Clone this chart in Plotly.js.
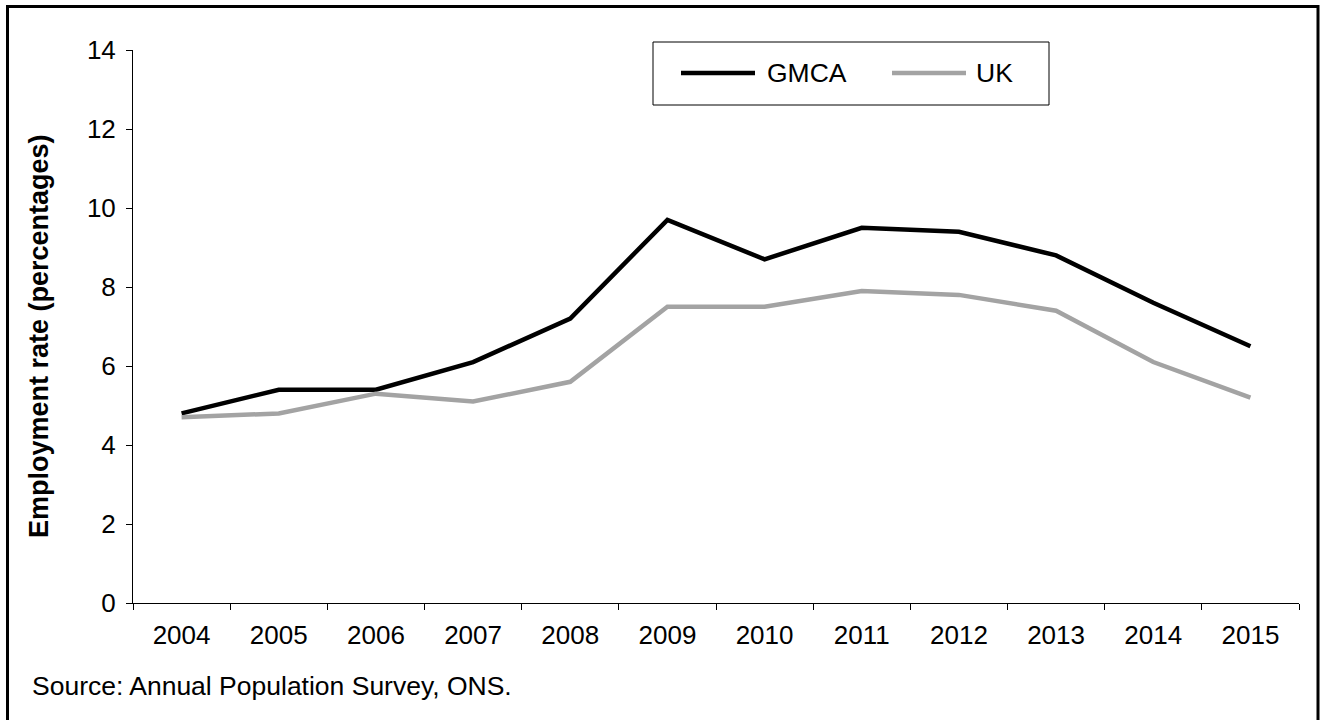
<!DOCTYPE html>
<html>
<head>
<meta charset="utf-8">
<script src="https://cdn.plot.ly/plotly-3.0.1.min.js"></script>
<style>
  html, body { margin: 0; padding: 0; background: #fff; }
  #chart { width: 1324px; height: 720px; }
</style>
</head>
<body>
<div id="chart"></div>
<script>
// Employment rate series, 2004-2015
const years = ['2004', '2005', '2006', '2007', '2008', '2009', '2010', '2011', '2012', '2013', '2014', '2015'];
const gmcaRate = [4.8, 5.4, 5.4, 6.1, 7.2, 9.7, 8.7, 9.5, 9.4, 8.8, 7.6, 6.5];
const ukRate = [4.7, 4.8, 5.3, 5.1, 5.6, 7.5, 7.5, 7.9, 7.8, 7.4, 6.1, 5.2];
const seriesNames = ['GMCA', 'UK'];
const seriesColors = ['#000000', '#a3a3a3'];
const yTitle = 'Employment rate (percentages)';
const sourceNote = 'Source: Annual Population Survey, ONS.';

const FONT = 'Liberation Sans, Arial, sans-serif';

const traces = [gmcaRate, ukRate].map((vals, i) => ({
  type: 'scatter',
  mode: 'lines',
  x: years,
  y: vals,
  name: seriesNames[i],
  line: { color: seriesColors[i], width: 4.5 },
  showlegend: false,
  hoverinfo: 'x+y+name'
}));

// plot area in pixels: x 133..1299, y 50..603
const L = 133, R = 1299, T = 50, B = 603;
const px = v => (v - L) / (R - L);
const py = v => (B - v) / (B - T);

// boxed legend
const legendShapes = [
  { type: 'rect', xref: 'paper', yref: 'paper', x0: px(653), x1: px(1049), y0: py(105), y1: py(42),
    line: { color: '#000', width: 1 }, fillcolor: '#fff' },
  { type: 'line', xref: 'paper', yref: 'paper', x0: px(681), x1: px(755), y0: py(73), y1: py(73),
    line: { color: seriesColors[0], width: 4.5 } },
  { type: 'line', xref: 'paper', yref: 'paper', x0: px(892), x1: px(966), y0: py(73), y1: py(73),
    line: { color: seriesColors[1], width: 4.5 } }
];
const legendLabels = [
  { text: seriesNames[0], x: px(765), y: py(73) },
  { text: seriesNames[1], x: px(974), y: py(73) }
].map(a => Object.assign(a, {
  xref: 'paper', yref: 'paper', xanchor: 'left', yanchor: 'middle', showarrow: false,
  font: { family: FONT, size: 26.5, color: '#000' }
}));

const tickFont = { family: FONT, size: 26, color: '#000' };

const layout = {
  width: 1324,
  height: 720,
  margin: { l: L, r: 1324 - R, t: T, b: 720 - B, pad: 0 },
  paper_bgcolor: '#fff',
  plot_bgcolor: '#fff',
  font: { family: FONT, size: 26, color: '#000' },
  xaxis: {
    type: 'category',
    range: [-0.5, 11.5],
    tickson: 'boundaries',
    ticks: 'outside',
    ticklen: 6,
    tickwidth: 1,
    tickcolor: '#000',
    ticklabelstandoff: 9,
    showline: true,
    linecolor: '#000',
    linewidth: 1,
    showgrid: false,
    zeroline: false,
    tickfont: tickFont,
    fixedrange: true
  },
  yaxis: {
    range: [0, 14],
    dtick: 2,
    tick0: 0,
    ticks: 'outside',
    ticklen: 6,
    tickwidth: 1,
    tickcolor: '#000',
    ticklabelstandoff: 5,
    showline: true,
    linecolor: '#000',
    linewidth: 1,
    showgrid: false,
    zeroline: false,
    tickfont: tickFont,
    fixedrange: true
  },
  shapes: [
    // outer frame
    { type: 'rect', xref: 'paper', yref: 'paper', x0: px(7.5), x1: px(1318), y0: py(760), y1: py(6.5),
      line: { color: '#000', width: 3 }, fillcolor: 'rgba(0,0,0,0)', layer: 'below' }
  ].concat(legendShapes),
  annotations: [
    { text: '<b>' + yTitle + '</b>', xref: 'paper', yref: 'paper', x: px(39), y: py(336),
      xanchor: 'center', yanchor: 'middle', textangle: -90, showarrow: false,
      font: { family: FONT, size: 27, color: '#000' } },
    { text: sourceNote, xref: 'paper', yref: 'paper', x: px(30), y: py(686),
      xanchor: 'left', yanchor: 'middle', showarrow: false,
      font: { family: FONT, size: 26.5, color: '#000' } }
  ].concat(legendLabels)
};

Plotly.newPlot('chart', traces, layout, { displayModeBar: false, staticPlot: true });
</script>
</body>
</html>
